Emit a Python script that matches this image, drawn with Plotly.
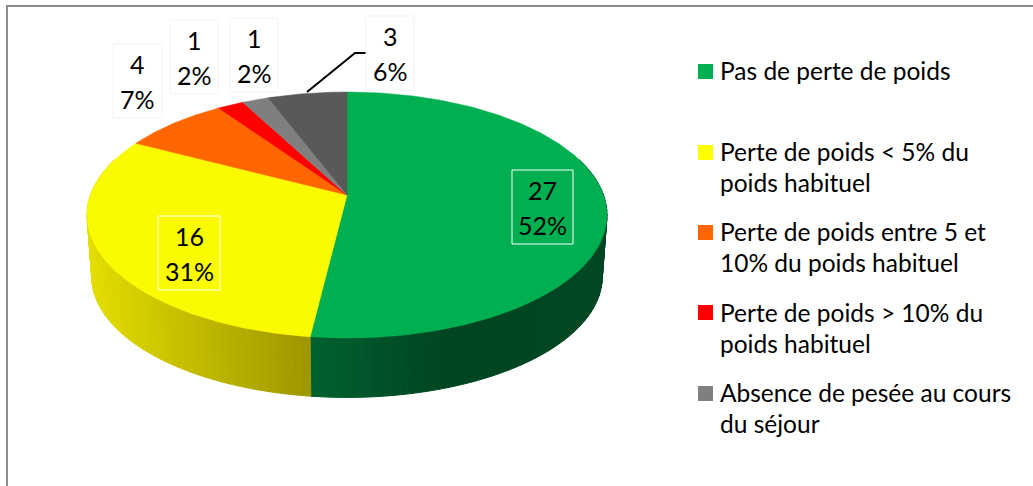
import math
import plotly.graph_objects as go

# ---- data ----
SLICE_NAMES = ["Pas de perte de poids", "Perte de poids < 5% du poids habituel",
               "Perte de poids entre 5 et 10% du poids habituel",
               "Perte de poids > 10% du poids habituel",
               "Absence de pesée au cours du séjour", "Autre"]
COUNTS = [27, 16, 4, 1, 1, 3]
PERCENTS = [52, 31, 7, 2, 2, 6]
TOP_COLORS = ["#00B050", "#FAFA00", "#FF6600", "#FF0000", "#7F7F7F", "#595959"]
LEGEND_LINES = [["Pas de perte de poids"],
                ["Perte de poids < 5% du", "poids habituel"],
                ["Perte de poids entre 5 et", "10% du poids habituel"],
                ["Perte de poids > 10% du", "poids habituel"],
                ["Absence de pesée au cours", "du séjour"]]
LEGEND_COLORS = ["#00B050", "#FFFF00", "#FF6600", "#FF0000", "#7F7F7F"]
LEGEND_Y = [70, 151, 231, 312, 392]

# ---- geometry of the tilted pie (pixels) ----
CX, CY = 347, 195
A, B, K = 256.5, 119.75, 0.1626
S_BOT, Y_BOT = 0.982, 257
LABEL_BOXES = [(512, 170, 573, 244), (158, 216, 220, 290), (113, 44, 162, 118),
               (170, 20, 218, 94), (230, 18, 278, 92), (366, 16, 414, 90)]
LABEL_LINE = ["#FFFFFF", "#FFFFFF", "#F3F3F3", "#F3F3F3", "#F3F3F3", "#F3F3F3"]
FONT = "Lato"


def top(t):
    u, v = math.sin(t), math.cos(t)
    d = 1 + K * v
    return CX + A * u / d, CY - B * v / d


def bot(t):
    u, v = math.sin(t), math.cos(t)
    d = 1 + K * v
    return CX + S_BOT * A * u / d, Y_BOT - S_BOT * B * v / d


def mix(stops, x):
    for (x0, c0), (x1, c1) in zip(stops, stops[1:]):
        if x <= x1:
            f = max(0, (x - x0) / (x1 - x0))
            return "rgb(%d,%d,%d)" % tuple(c0[i] + f * (c1[i] - c0[i]) for i in range(3))
    return "rgb(%d,%d,%d)" % tuple(stops[-1][1])


SIDE_SHADES = [
    [(311, (0, 98, 48)), (450, (0, 68, 33)), (610, (0, 72, 36))],
    [(88, (228, 222, 0)), (311, (158, 150, 0))],
]

fig = go.Figure()
total = sum(COUNTS)
angles = [0]
for c in COUNTS:
    angles.append(angles[-1] + c / total * 2 * math.pi)


def poly(xs, ys, color, width=1):
    fig.add_trace(go.Scatter(x=xs, y=ys, mode="lines", fill="toself", fillcolor=color,
                             line=dict(color=color, width=width), hoverinfo="skip",
                             showlegend=False))


# sides: short shaded bands along the visible rim
for i in (0, 1):
    a0, a1 = angles[i], angles[i + 1]
    lo, hi = max(a0, math.pi * 0.4), min(a1, math.pi * 1.6)
    n = 60
    for j in range(n):
        t0 = lo + (hi - lo) * j / n
        t1 = lo + (hi - lo) * (j + 1) / n
        p = [top(t0), top(t1), bot(t1), bot(t0)]
        xmid = (p[0][0] + p[1][0]) / 2
        poly([q[0] for q in p] + [p[0][0]], [q[1] for q in p] + [p[0][1]],
             mix(SIDE_SHADES[i], xmid))

# top faces
for i, col in enumerate(TOP_COLORS):
    n = max(4, int(COUNTS[i] * 8))
    pts = [top(angles[i] + (angles[i + 1] - angles[i]) * j / n) for j in range(n + 1)]
    poly([CX] + [q[0] for q in pts] + [CX], [CY] + [q[1] for q in pts] + [CY], col, width=0.5)

# leader line
fig.add_trace(go.Scatter(x=[307, 355, 367], y=[92, 53, 53], mode="lines",
                         line=dict(color="#000000", width=2), hoverinfo="skip", showlegend=False))

# legend squares
fig.add_trace(go.Scatter(x=[705.5] * len(LEGEND_COLORS), y=[y + 0.5 for y in [71, 152, 232, 312, 393]],
                         mode="markers",
                         marker=dict(symbol="square", size=15, color=LEGEND_COLORS, line=dict(width=0)),
                         hoverinfo="skip", showlegend=False))

shapes = [
    dict(type="line", x0=7, x1=7, y0=6, y1=486, line=dict(color="#8C8C8C", width=2)),
    dict(type="line", x0=6, x1=1033, y0=6, y1=6, line=dict(color="#8C8C8C", width=2)),
]
ann = []
for i, (x0, y0, x1, y1) in enumerate(LABEL_BOXES):
    fill = "rgba(0,0,0,0)" if i < 2 else "#FFFFFF"
    shapes.append(dict(type="rect", x0=x0, x1=x1, y0=y0, y1=y1, fillcolor=fill,
                       line=dict(color=LABEL_LINE[i], width=1)))
    xc = (x0 + x1) / 2
    for txt, yy in ((str(COUNTS[i]), y0 + 20), (f"{PERCENTS[i]}%", y0 + 55)):
        ann.append(dict(x=xc, y=yy, text=txt, showarrow=False, xanchor="center", yanchor="middle",
                        font=dict(family=FONT, size=25, color="#000000")))
for lines, yy in zip(LEGEND_LINES, LEGEND_Y):
    for k, line in enumerate(lines):
        ann.append(dict(x=718, y=yy + k * 31.5, text=line, showarrow=False, xanchor="left",
                        yanchor="middle", font=dict(family=FONT, size=24.5, color="#000000")))

fig.update_layout(
    width=1033, height=486, margin=dict(l=0, r=0, t=0, b=0),
    paper_bgcolor="#FFFFFF", plot_bgcolor="#FFFFFF", showlegend=False,
    xaxis=dict(range=[0, 1033], visible=False, fixedrange=True),
    yaxis=dict(range=[486, 0], visible=False, fixedrange=True),
    shapes=shapes, annotations=ann,
)
fig.write_html("out.html", config={"displayModeBar": False},
               post_script="document.body.style.margin='0';document.body.style.overflow='hidden';")
